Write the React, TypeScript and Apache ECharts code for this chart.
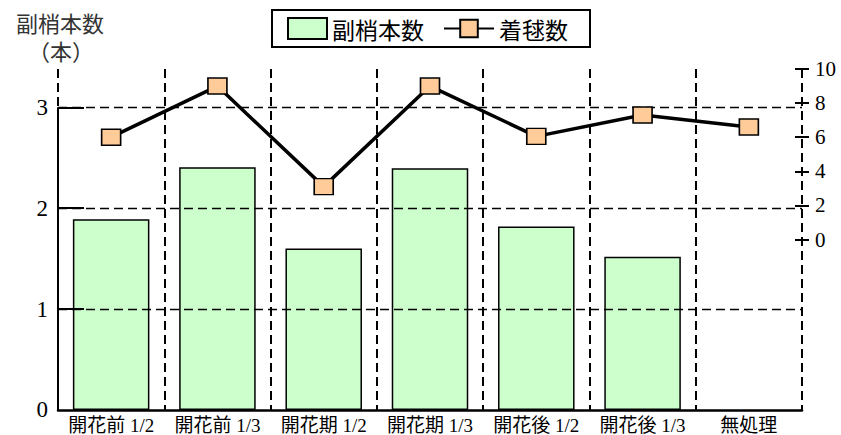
import React, { useEffect, useRef } from "react";
import * as echarts from "echarts";

const categories = ["開花前 1/2", "開花前 1/3", "開花期 1/2", "開花期 1/3", "開花後 1/2", "開花後 1/3", "無処理"];
const shootCounts: (number | null)[] = [1.89, 2.405, 1.6, 2.395, 1.82, 1.52, null];
const ballCounts = [6.0, 9.0, 3.1, 9.0, 6.05, 7.3, 6.6];
const leftTicks = [0, 1, 2, 3];
const leftGridValues = [1, 2, 3];
const rightTicks = [0, 2, 4, 6, 8, 10];

const SERIF = "'Liberation Serif', 'Noto Sans CJK JP', serif";
const SANS = "'Noto Sans CJK JP', 'Noto Sans', sans-serif";
const GRID_LEFT = 58;

export default function App() {
  const ref = useRef<HTMLDivElement>(null);
  useEffect(() => {
    if (!ref.current) return;
    document.body.style.margin = "0";
    const chart = echarts.init(ref.current, null, { renderer: "svg" });
    const dash = [9, 5];
    chart.setOption({
      animation: false,
      backgroundColor: "#fff",
      grid: { left: GRID_LEFT, right: 39, top: 69, bottom: 25, containLabel: false },
      legend: [
        {
          left: 287,
          top: 17,
          padding: 0,
          itemWidth: 39,
          itemHeight: 21,
          textStyle: { fontFamily: SANS, fontSize: 23, color: "#000" },
          data: [{ name: "副梢本数", icon: "rect" }],
          selectedMode: false,
        },
        {
          left: 443,
          top: 17,
          padding: 0,
          itemWidth: 50,
          itemHeight: 22,
          textStyle: { fontFamily: SANS, fontSize: 23, color: "#000" },
          data: [{ name: "着毬数" }],
          selectedMode: false,
        },
      ],
      xAxis: {
        type: "category",
        data: categories,
        boundaryGap: true,
        z: 3,
        axisLine: { show: true, lineStyle: { color: "#000", width: 2.5 } },
        axisTick: { show: false },
        splitLine: { show: true, lineStyle: { color: "#000", width: 2, type: dash } },
        axisLabel: { fontFamily: SERIF, fontSize: 19, color: "#000", margin: 6, interval: 0 },
      },
      yAxis: [
        {
          type: "value",
          min: 0,
          max: 3.38,
          position: "left",
          z: 3,
          axisLine: { show: false },
          axisTick: {
            show: true,
            inside: true,
            length: 26,
            customValues: leftGridValues,
            lineStyle: { color: "#000", width: 2 },
          },
          splitLine: { show: false },
          axisLabel: {
            customValues: leftTicks,
            fontFamily: SERIF,
            fontSize: 23,
            color: "#000",
            margin: 10,
          },
        },
        {
          type: "value",
          min: -10,
          max: 10,
          position: "right",
          z: 3,
          axisLine: { show: false },
          axisTick: {
            show: true,
            inside: false,
            length: 7,
            customValues: rightTicks,
            lineStyle: { color: "#000", width: 2 },
          },
          splitLine: { show: false },
          axisLabel: {
            customValues: rightTicks,
            fontFamily: SERIF,
            fontSize: 21,
            color: "#000",
            margin: 13,
            align: "left",
          },
        },
        {
          type: "value",
          min: -10,
          max: 10,
          position: "right",
          z: 3,
          axisLine: { show: false },
          axisTick: {
            show: true,
            inside: true,
            length: 7,
            customValues: rightTicks,
            lineStyle: { color: "#000", width: 2 },
          },
          splitLine: { show: false },
          axisLabel: { show: false },
        },
      ],
      series: [
        {
          name: "副梢本数",
          type: "bar",
          yAxisIndex: 0,
          data: shootCounts,
          barWidth: "72%",
          z: 2,
          itemStyle: { color: "#CCFFCC", borderColor: "#000", borderWidth: 1.5 },
          markLine: {
            silent: true,
            symbol: "none",
            z: 4,
            label: { show: false },
            lineStyle: { color: "#000", width: 1.3, type: dash },
            data: leftGridValues.map((v) => ({ yAxis: v })),
          },
        },
        {
          name: "着毬数",
          type: "line",
          yAxisIndex: 1,
          data: ballCounts,
          z: 6,
          symbol: "rect",
          symbolSize: [19, 16],
          lineStyle: { color: "#000", width: 3.5 },
          itemStyle: { color: "#FFCC99", borderColor: "#000", borderWidth: 1.5 },
        },
      ],
    });
    const y0 = chart.convertToPixel({ yAxisIndex: 0 }, 0) as number;
    const y3 = chart.convertToPixel({ yAxisIndex: 0 }, 3) as number;
    const titleStyle = {
      align: "center",
      verticalAlign: "top",
      fontFamily: SANS,
      fontSize: 22,
      lineHeight: 24,
      fill: "#333",
    };
    chart.setOption({
      graphic: [
        {
          type: "rect",
          shape: { x: 272, y: 10, width: 318, height: 37 },
          style: { fill: "none", stroke: "#000", lineWidth: 2 },
          z: 10,
        },
        {
          type: "line",
          shape: { x1: GRID_LEFT, y1: y0, x2: GRID_LEFT, y2: y3 },
          style: { stroke: "#000", lineWidth: 2 },
          z: 10,
        },
        {
          type: "text",
          x: 60,
          y: 10,
          style: { ...titleStyle, text: "副梢本数" },
          z: 10,
        },
        {
          type: "text",
          x: 61,
          y: 38,
          style: { ...titleStyle, text: "（本）" },
          z: 10,
        },
      ],
    });
    return () => chart.dispose();
  }, []);
  return <div ref={ref} style={{ width: 841, height: 435 }} />;
}
